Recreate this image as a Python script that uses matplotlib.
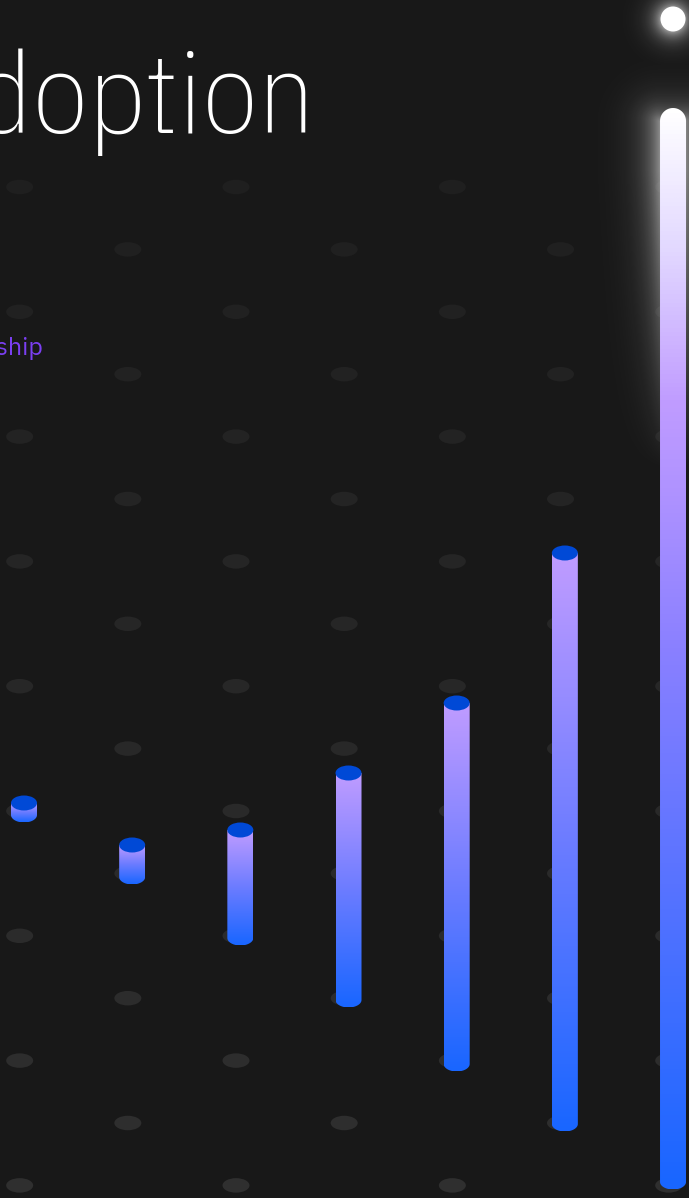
import numpy as np
import matplotlib
matplotlib.use('Agg')
import matplotlib.pyplot as plt
from matplotlib.colors import LinearSegmentedColormap
from matplotlib.patches import Ellipse, PathPatch
from matplotlib.path import Path

BG = '#181818'

# floating range per stage (bottom -> top)
stages = ['S1', 'S2', 'S3', 'S4', 'S5', 'S6', 'S7']
range_low = [38.3, 32.1, 26.0, 19.8, 13.4, 7.4, 1.6]
range_high = [39.5, 35.3, 36.8, 42.5, 49.5, 64.5, 107.7]
marker_value = 117.9   # lone dot above the last bar

title = 'Adoption'
subtitle = 'Leadership'

# px per data unit (x: one stage, y: one unit)
PX_X, PX_Y = 108.17, 10.0

fig = plt.figure(figsize=(6.89, 11.98), dpi=100, facecolor=BG)
ax = fig.add_axes([0, 0, 1, 1])
ax.set_facecolor(BG)
ax.axis('off')
xlim = (-24 / PX_X, (689 - 24) / PX_X)
ylim = (0, 119.8)

# background dot lattice
for j in range(17):
    ypx = 187 + 62.4 * j
    shade = 0.12 + 0.065 * j / 16
    for i in range(7):
        if (i + j) % 2:
            continue
        ax.add_patch(Ellipse((i - 0.04, (1198 - ypx) / PX_Y), 27 / PX_X, 1.45,
                             color=(shade, shade, shade), lw=0, zorder=1))

side_cmap = LinearSegmentedColormap.from_list('side', ['#1966ff', '#6c7cff', '#c09cff'])
last_cmap = LinearSegmentedColormap.from_list('last', [
    (0.0, '#1966ff'), (0.3, '#5c74ff'), (0.5, '#8a80ff'), (0.65, '#b093ff'),
    (0.73, '#c09cff'), (0.87, '#e2d8ff'), (1.0, '#ffffff')])


def body_path(xc, lo, hi, hw, ry_bot, ry_top=None):
    t = np.linspace(np.pi, 2 * np.pi, 40)
    pts = list(zip(xc + hw * np.cos(t), lo + ry_bot * np.sin(t)))
    if ry_top is None:
        pts += [(xc + hw, hi), (xc - hw, hi)]
    else:
        t2 = np.linspace(0, np.pi, 40)
        pts += list(zip(xc + hw * np.cos(t2), hi + ry_top * np.sin(t2)))
    pts.append(pts[0])
    return Path(pts, closed=True)


grad = np.linspace(1, 0, 256).reshape(-1, 1)
hw = 13 / PX_X
n = len(stages)
for i, (lo, hi) in enumerate(zip(range_low, range_high)):
    last = i == n - 1
    ry_top = 1.3 if last else None
    patch = PathPatch(body_path(i, lo, hi, hw, 0.75, ry_top), fc='none', lw=0,
                      transform=ax.transData)
    ax.add_patch(patch)
    top = hi + (1.3 if last else 0)
    im = ax.imshow(grad, extent=[i - hw, i + hw, lo - 0.75, top], aspect='auto',
                   cmap=last_cmap if last else side_cmap, zorder=3,
                   interpolation='bilinear')
    im.set_clip_path(patch)
    if not last:
        ax.add_patch(Ellipse((i, hi), 2 * hw, 1.5, color='#0049d6', lw=0, zorder=4))

# glow around the last bar and the marker
gx = np.linspace(540, 689, 150)
gy = np.linspace(0, 650, 651)
X, Y = np.meshgrid(gx, gy)
xc_px = 24 + PX_X * (n - 1)
top_px = 1198 - range_high[-1] * PX_Y
dx = np.maximum(np.abs(X - xc_px) - 13, 0)
dy = np.maximum(top_px - Y, 0)
fade = np.clip((470 - Y) / 300, 0, 1)
glow = 0.5 * np.exp(-np.hypot(dx, dy) / 15) * fade
mk_px = 1198 - marker_value * PX_Y
d2 = np.maximum(np.hypot(X - xc_px, Y - mk_px) - 12, 0)
glow = np.maximum(glow, 0.55 * np.exp(-d2 / 9))
rgba = np.ones((len(gy), len(gx), 4))
rgba[..., 3] = glow
ax.imshow(rgba, extent=[(540 - 24) / PX_X, (689 - 24) / PX_X, (1198 - 650) / PX_Y, 119.8],
          aspect='auto', zorder=2, interpolation='bilinear')
ax.add_patch(Ellipse((n - 1, marker_value), 25 / PX_X, 2.5, color='white', lw=0, zorder=5))

ax.text((315 - 24) / PX_X, (1198 - 133) / PX_Y, title, color='white', fontsize=81,
        ha='right', va='baseline', family=['IBM Plex Sans Condensed', 'DejaVu Sans'],
        weight='light')
ax.text((43 - 24) / PX_X, (1198 - 355) / PX_Y, subtitle, color='#7b3ff2', fontsize=18,
        ha='right', va='baseline', family=['IBM Plex Sans', 'DejaVu Sans'])

ax.set_xlim(*xlim)
ax.set_ylim(*ylim)
fig.savefig('out.png', dpi=100, facecolor=BG)
